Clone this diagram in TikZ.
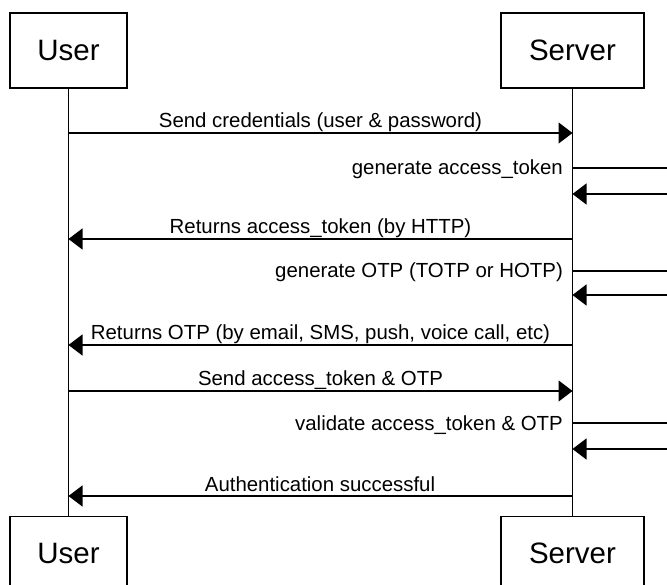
\documentclass[tikz,border=0pt]{standalone}
\usepackage{fontspec}
\setmainfont{Liberation Sans}
\usetikzlibrary{arrows.meta}
\tikzset{
  actor/.style={draw=black, line width=1.3pt, fill=white, minimum height=75pt, inner sep=0pt,
    font=\fontsize{29.5}{34}\selectfont},
  lifeline/.style={draw=black, line width=1.3pt},
  msg/.style={draw=black, line width=1.3pt, -{Triangle[length=14pt,width=21pt]}},
  lbl/.style={font=\fontsize{20.4}{24}\selectfont, inner sep=0pt, anchor=base},
  selflbl/.style={font=\fontsize{20.4}{24}\selectfont, inner sep=0pt, anchor=base east},
}
\begin{document}
\begin{tikzpicture}[x=1pt,y=-1pt]
\useasboundingbox (0,0) rectangle (667,585);
\clip (0,0) rectangle (667,585);
\fill[white] (0,0) rectangle (667,585);
% actors
\node[actor, minimum width=117pt] (userT) at (68.5,50.5) {User};
\node[actor, minimum width=143pt] (serverT) at (572.5,50.5) {Server};
\node[actor, minimum width=117pt, anchor=north] (userB) at (68.5,516) {};
\node[actor, minimum width=143pt, anchor=north] (serverB) at (572.5,516) {};
\node[font=\fontsize{29.5}{34}\selectfont, inner sep=0pt] (userBt) at (68.5,553.5) {User};
\node[font=\fontsize{29.5}{34}\selectfont, inner sep=0pt] (serverBt) at (572.5,553.5) {Server};
% lifelines
\draw[lifeline] (userT.south) -- (userB.north);
\draw[lifeline] (serverT.south) -- (serverB.north);
% message points
\coordinate (u1) at (68.5,133); \coordinate (s1) at (572.5,133);
\coordinate (s2a) at (572.5,168); \coordinate (r2) at (720,168); \coordinate (s2b) at (572.5,194);
\coordinate (u3) at (68.5,239); \coordinate (s3) at (572.5,239);
\coordinate (s4a) at (572.5,271); \coordinate (r4) at (720,271); \coordinate (s4b) at (572.5,295);
\coordinate (u5) at (68.5,345); \coordinate (s5) at (572.5,345);
\coordinate (u6) at (68.5,391); \coordinate (s6) at (572.5,391);
\coordinate (s7a) at (572.5,423); \coordinate (r7) at (720,423); \coordinate (s7b) at (572.5,449);
\coordinate (u8) at (68.5,496); \coordinate (s8) at (571.5,496);
% messages
\draw[msg] (u1) -- (s1) node[lbl, midway, yshift=5pt] (m1) {Send credentials (user \& password)};
\draw[msg] (s2a) -- (r2) |- (s2b);
\node[selflbl] (m2) at (563,175) {generate access\_token};
\draw[msg] (s3) -- (u3) node[lbl, midway, yshift=5pt] (m3) {Returns access\_token (by HTTP)};
\draw[msg] (s4a) -- (r4) |- (s4b);
\node[selflbl] (m4) at (563,278) {generate OTP (TOTP or HOTP)};
\draw[msg] (s5) -- (u5) node[lbl, midway, yshift=5pt] (m5) {Returns OTP (by email, SMS, push, voice call, etc)};
\draw[msg] (u6) -- (s6) node[lbl, midway, yshift=5pt] (m6) {Send access\_token \& OTP};
\draw[msg] (s7a) -- (r7) |- (s7b);
\node[selflbl] (m7) at (563,430) {validate access\_token \& OTP};
\draw[msg] (s8) -- (u8) node[lbl, midway, yshift=5pt] (m8) {Authentication successful};
\end{tikzpicture}
\end{document}
